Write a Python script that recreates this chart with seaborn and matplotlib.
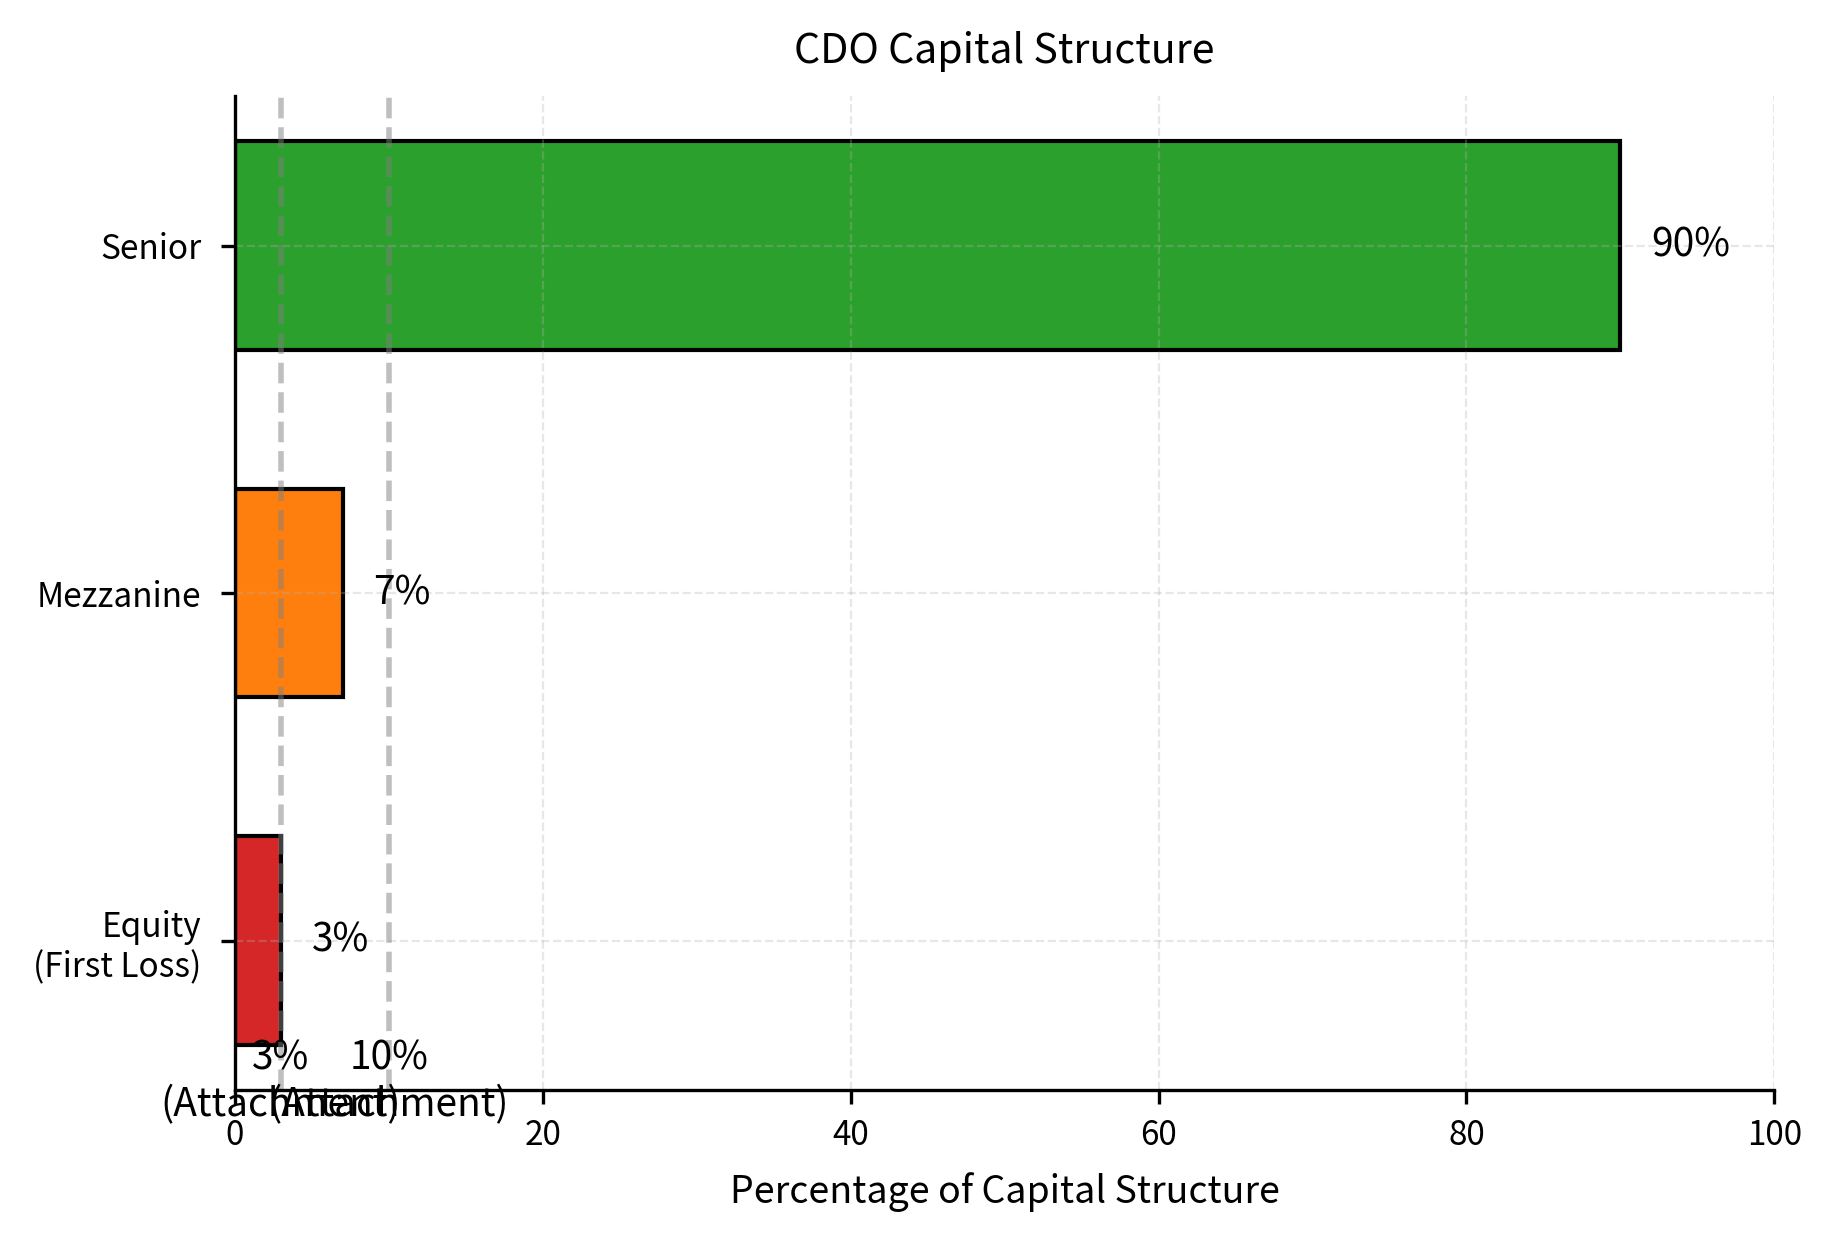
import matplotlib
matplotlib.use("Agg")
import matplotlib.pyplot as plt
import seaborn as sns
import pandas as pd

tranches = ["Senior", "Mezzanine", "Equity\n(First Loss)"]
sizes = [90, 7, 3]
colors = ["#2ca02c", "#ff7f0e", "#d62728"]
attach_points = [3, 10]
attach_labels = ["3%\n(Attachment)", "10%\n(Attachment)"]
xticks = [0, 20, 40, 60, 80, 100]

sns.set_style("ticks")
plt.rcParams["font.family"] = ["Noto Sans CJK KR", "DejaVu Sans"]
plt.rcParams.update({"text.color": "black", "axes.labelcolor": "black",
                     "xtick.color": "black", "ytick.color": "black"})

df = pd.DataFrame({"tranche": tranches, "size": sizes})

fig, ax = plt.subplots(figsize=(9.17, 6.17), dpi=200)
fig.subplots_adjust(left=0.128, right=0.9675, top=0.922, bottom=0.1166)

sns.barplot(data=df, x="size", y="tranche", hue="tranche", palette=colors,
            orient="h", width=0.6, edgecolor="black", linewidth=1.5,
            saturation=1, legend=False, ax=ax)

for p in ax.patches:
    p.set_zorder(1)

for i, v in enumerate(sizes):
    ax.text(v + 2, i, f"{v}%", va="center", ha="left", fontsize=14, color="black")

for xp, lab in zip(attach_points, attach_labels):
    ax.axvline(xp, color="gray", linestyle="--", alpha=0.5, linewidth=2, zorder=2)
    ax.text(xp, len(tranches) - 0.47, lab, ha="center", va="bottom", fontsize=14,
            color="black")

ax.set_xlim(0, 100)
ax.set_ylim(2.43, -0.43)
ax.set_xticks(xticks)
ax.grid(True, linestyle="--", alpha=0.3, color="#b0b0b0")
ax.set_axisbelow("line")
ax.tick_params(axis="both", labelsize=12, length=5, width=1.2, color="black",
               labelcolor="black")
ax.tick_params(axis="y", pad=7)
ax.tick_params(axis="x", pad=5)
ax.set_xlabel("Percentage of Capital Structure", fontsize=13.5, labelpad=7,
              color="black")
ax.set_ylabel("")
ax.set_title("CDO Capital Structure", fontsize=14.8, pad=12, color="black")
for s in ["left", "bottom"]:
    ax.spines[s].set_color("black")
    ax.spines[s].set_linewidth(1.2)
sns.despine(ax=ax)

fig.savefig("out.png", dpi=200)
